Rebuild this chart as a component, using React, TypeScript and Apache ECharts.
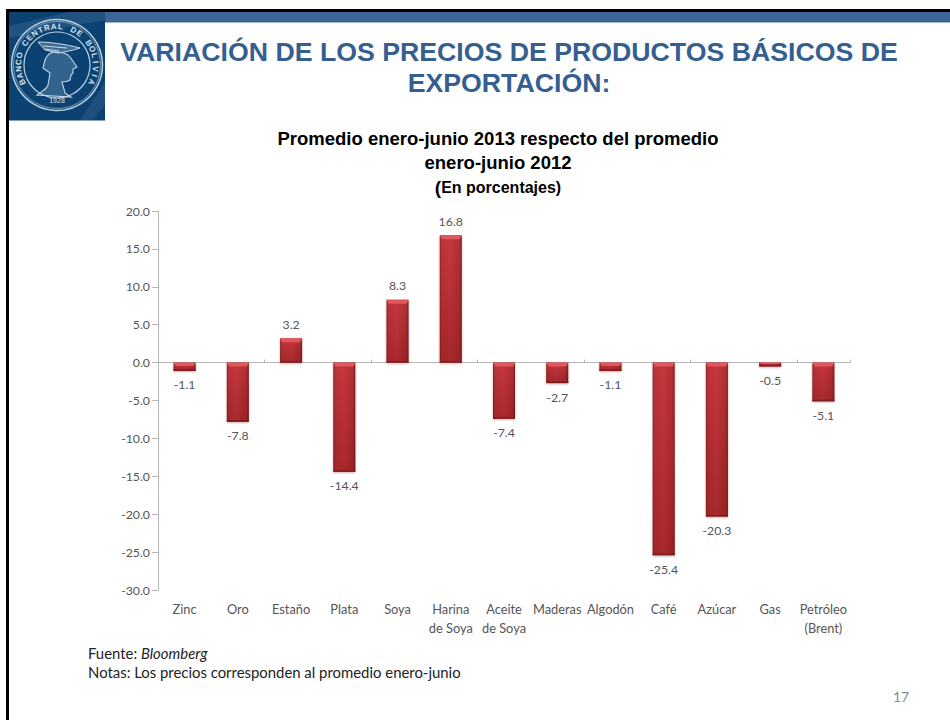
import React, { useEffect, useRef } from "react";
import * as echarts from "echarts";

const categories = ["Zinc", "Oro", "Estaño", "Plata", "Soya", "Harina\nde Soya", "Aceite\nde Soya", "Maderas", "Algodón", "Café", "Azúcar", "Gas", "Petróleo\n(Brent)"];
const values = [-1.1, -7.8, 3.2, -14.4, 8.3, 16.8, -7.4, -2.7, -1.1, -25.4, -20.3, -0.5, -5.1];

const titleLines = ["VARIACIÓN DE LOS PRECIOS DE PRODUCTOS BÁSICOS DE", "EXPORTACIÓN:"];
const subtitleLines = ["Promedio enero-junio 2013 respecto del promedio", "enero-junio 2012"];
const sealLeft = "BANCO CENTRAL DE BOLIVIA";

const LOGO_HEAD = "M-12 -5 C-10 -10 -6 -13 -2 -13 C5 -13 11 -11 13 -8 L20 2 L16 4 L16 8 L14 10 L13 15 C10 17 7 17 5 17 L8 28 L14 32 L-20 30 C-15 26 -10 24 -9 20 L-7 8 L-14 3 Z";
const LOGO_WING = "M-19 -23 C-8 -23 8 -21 23 -17 C14 -14 7 -13 1 -12 L-12 -15 Z M-14 -19 L10 -17 M-12 -16 L2 -14";
echarts.graphic.registerShape("bcbHead", echarts.graphic.extendPath(LOGO_HEAD as any, {}) as any);
echarts.graphic.registerShape("bcbWing", echarts.graphic.extendPath(LOGO_WING as any, {}) as any);

const cx = 57, cy = 65;

function sealLetters() {
  const chars = Array.from(sealLeft);
  const span = (232 * Math.PI) / 180;
  return chars.map((ch, i) => {
    const a = -span / 2 + (span * i) / (chars.length - 1);
    return {
      type: "text", silent: true, z: 12,
      x: cx + 38.5 * Math.sin(a), y: cy - 38.5 * Math.cos(a), rotation: -a,
      style: { text: ch, fill: "#d5e2ee", fontSize: 8, fontWeight: "bold", fontFamily: "Liberation Sans", align: "center", verticalAlign: "middle" },
    };
  });
}

export default function App() {
  const ref = useRef<HTMLDivElement>(null);
  useEffect(() => {
    document.body.style.margin = "0";
    const chart = echarts.init(ref.current!, undefined, { renderer: "svg" });
    const barGradient = new echarts.graphic.LinearGradient(0, 0, 1, 0, [
      { offset: 0, color: "#8a2226" },
      { offset: 0.08, color: "#bd3338" },
      { offset: 0.5, color: "#c6383d" },
      { offset: 0.9, color: "#b02f33" },
      { offset: 1, color: "#7f1d20" },
    ]);
    const shade = new echarts.graphic.LinearGradient(0, 0, 0, 1, [
      { offset: 0, color: "rgba(90,0,0,0)" },
      { offset: 1, color: "rgba(90,0,0,0.28)" },
    ]);
    const BAR_W = 22;
    const renderBevel = (_p: any, api: any) => {
      const i = api.value(0), v = api.value(1);
      const a = api.coord([i, v]);
      const b = api.coord([i, 0]);
      const x = a[0] - BAR_W / 2;
      const top = Math.min(a[1], b[1]);
      const h = Math.abs(a[1] - b[1]);
      const bev = Math.min(h * 0.4, 4);
      return {
        type: "group",
        silent: true,
        children: [
          { type: "rect", shape: { x, y: top, width: BAR_W, height: h }, style: { fill: shade } },
          { type: "polygon", shape: { points: [[x, top], [x + BAR_W, top], [x + BAR_W - 2, top + bev], [x + 2, top + bev]] }, style: { fill: "#df585c" } },
          { type: "rect", shape: { x, y: top + h - 1.5, width: BAR_W, height: 1.5 }, style: { fill: "#7c1c1f" } },
        ],
      };
    };
    chart.setOption({
      animation: false,
      backgroundColor: "#ffffff",
      grid: { left: 158, top: 211, width: 692, height: 379, containLabel: false },
      xAxis: [
        {
          type: "category", data: categories, position: "bottom",
          axisLine: { onZero: true, lineStyle: { color: "#b5b5b5" } },
          axisTick: { show: true, inside: true, length: 3, lineStyle: { color: "#b5b5b5" } },
          axisLabel: { show: false },
        },
        {
          type: "category", data: categories, position: "bottom",
          axisLine: { show: false, onZero: false }, axisTick: { show: false },
          axisLabel: { show: true, interval: 0, color: "#555555", fontFamily: "Lato", fontSize: 12.8, margin: 9, lineHeight: 19 },
        },
      ],
      yAxis: {
        type: "value", min: -30, max: 20, interval: 5,
        axisLine: { show: true, lineStyle: { color: "#b5b5b5" } },
        axisTick: { show: true, length: 6, lineStyle: { color: "#b5b5b5" } },
        splitLine: { show: false },
        axisLabel: { color: "#555555", fontFamily: "Lato", fontSize: 12.3, margin: 8, formatter: (v: number) => v.toFixed(1) },
      },
      series: [
        {
          type: "bar", xAxisIndex: 0, data: values, barWidth: BAR_W,
          itemStyle: { color: barGradient, shadowColor: "rgba(90,40,40,0.4)", shadowBlur: 2, shadowOffsetY: 1 },
          label: { show: true, position: "outside", distance: 8, color: "#555555", fontFamily: "Lato", fontSize: 12.3, formatter: (p: any) => p.value.toFixed(1) },
        },
        {
          type: "custom", xAxisIndex: 0, silent: true, z: 3,
          data: values.map((v, i) => [i, v]),
          encode: { x: 0, y: 1 },
          renderItem: renderBevel,
        },
      ],
      graphic: [
        { type: "rect", silent: true, z: 10, shape: { x: 6, y: 9, width: 944, height: 3 }, style: { fill: "#000000" } },
        { type: "rect", silent: true, z: 10, shape: { x: 6, y: 9, width: 3, height: 711 }, style: { fill: "#000000" } },
        { type: "rect", silent: true, z: 10, shape: { x: 105, y: 12, width: 845, height: 10.5 }, style: { fill: "#3a6596" } },
        { type: "rect", silent: true, z: 10, shape: { x: 9, y: 12, width: 96, height: 108.5 }, style: { fill: "#0c4272" } },
        { type: "polygon", silent: true, z: 10, shape: { points: [[9, 26], [70, 12], [105, 12], [105, 20], [9, 38]] }, style: { fill: "rgba(255,255,255,0.09)" } },
        { type: "polygon", silent: true, z: 10, shape: { points: [[80, 120.5], [105, 82], [105, 105], [92, 120.5]] }, style: { fill: "rgba(255,255,255,0.08)" } },
        { type: "circle", silent: true, z: 11, shape: { cx, cy, r: 32 }, style: { fill: "#0c4272" } },
        { type: "circle", silent: true, z: 11, shape: { cx, cy, r: 45.5 }, style: { fill: "none", stroke: "#b9cfe2", lineWidth: 1.5 } },
        { type: "circle", silent: true, z: 11, shape: { cx, cy, r: 43.5 }, style: { fill: "none", stroke: "#8fb0cc", lineWidth: 0.8 } },
        { type: "circle", silent: true, z: 11, shape: { cx, cy, r: 33 }, style: { fill: "none", stroke: "#b9cfe2", lineWidth: 1.2 } },
        { type: "bcbHead", silent: true, z: 11, x: cx, y: cy, style: { fill: "rgba(190,212,230,0.22)", stroke: "#c4d6e6", lineWidth: 1.1 } },
        { type: "bcbWing", silent: true, z: 11, x: cx, y: cy, style: { fill: "rgba(190,212,230,0.3)", stroke: "#c4d6e6", lineWidth: 1 } },
        ...sealLetters(),
        { type: "text", silent: true, z: 12, x: cx, y: 100, style: { text: "1928", fill: "#d5e2ee", fontSize: 7, fontFamily: "Liberation Sans", align: "center", verticalAlign: "middle" } },
        { type: "text", silent: true, z: 12, x: 509, y: 52, style: { text: titleLines[0], fill: "#365f91", fontSize: 26.7, fontWeight: "bold", fontFamily: "Liberation Sans", align: "center", verticalAlign: "middle" } },
        { type: "text", silent: true, z: 12, x: 509, y: 83, style: { text: titleLines[1], fill: "#365f91", fontSize: 26.7, fontWeight: "bold", fontFamily: "Liberation Sans", align: "center", verticalAlign: "middle" } },
        { type: "text", silent: true, z: 12, x: 498, y: 138, style: { text: subtitleLines[0], fill: "#000000", fontSize: 18.5, fontWeight: "bold", fontFamily: "Liberation Sans", align: "center", verticalAlign: "middle" } },
        { type: "text", silent: true, z: 12, x: 498, y: 162, style: { text: subtitleLines[1], fill: "#000000", fontSize: 18.5, fontWeight: "bold", fontFamily: "Liberation Sans", align: "center", verticalAlign: "middle" } },
        { type: "text", silent: true, z: 12, x: 498, y: 187, style: { rich: { p: { fontSize: 19, fontWeight: "bold", fontFamily: "Liberation Sans", fill: "#000" }, t: { fontSize: 16, fontWeight: "bold", fontFamily: "Liberation Sans", fill: "#000" } }, text: "{p|(}{t|En porcentajes)}", align: "center", verticalAlign: "middle" } },
        { type: "text", silent: true, z: 12, x: 88, y: 653, style: { rich: { a: { fontSize: 14.9, fontFamily: "Lato", fill: "#222" }, b: { fontSize: 14.9, fontStyle: "italic", fontFamily: "Lato", fill: "#222" } }, text: "{a|Fuente: }{b|Bloomberg}", verticalAlign: "middle" } },
        { type: "text", silent: true, z: 12, x: 88, y: 672, style: { text: "Notas: Los precios corresponden al promedio enero-junio", fill: "#222", fontSize: 14.9, fontFamily: "Lato", verticalAlign: "middle" } },
        { type: "text", silent: true, z: 12, x: 901, y: 696, style: { text: "17", fill: "#8a8a8a", fontSize: 14, fontFamily: "Lato", align: "center", verticalAlign: "middle" } },
      ],
    });
    return () => chart.dispose();
  }, []);
  return <div ref={ref} style={{ position: "absolute", left: 0, top: 0, width: 950, height: 720 }} />;
}
